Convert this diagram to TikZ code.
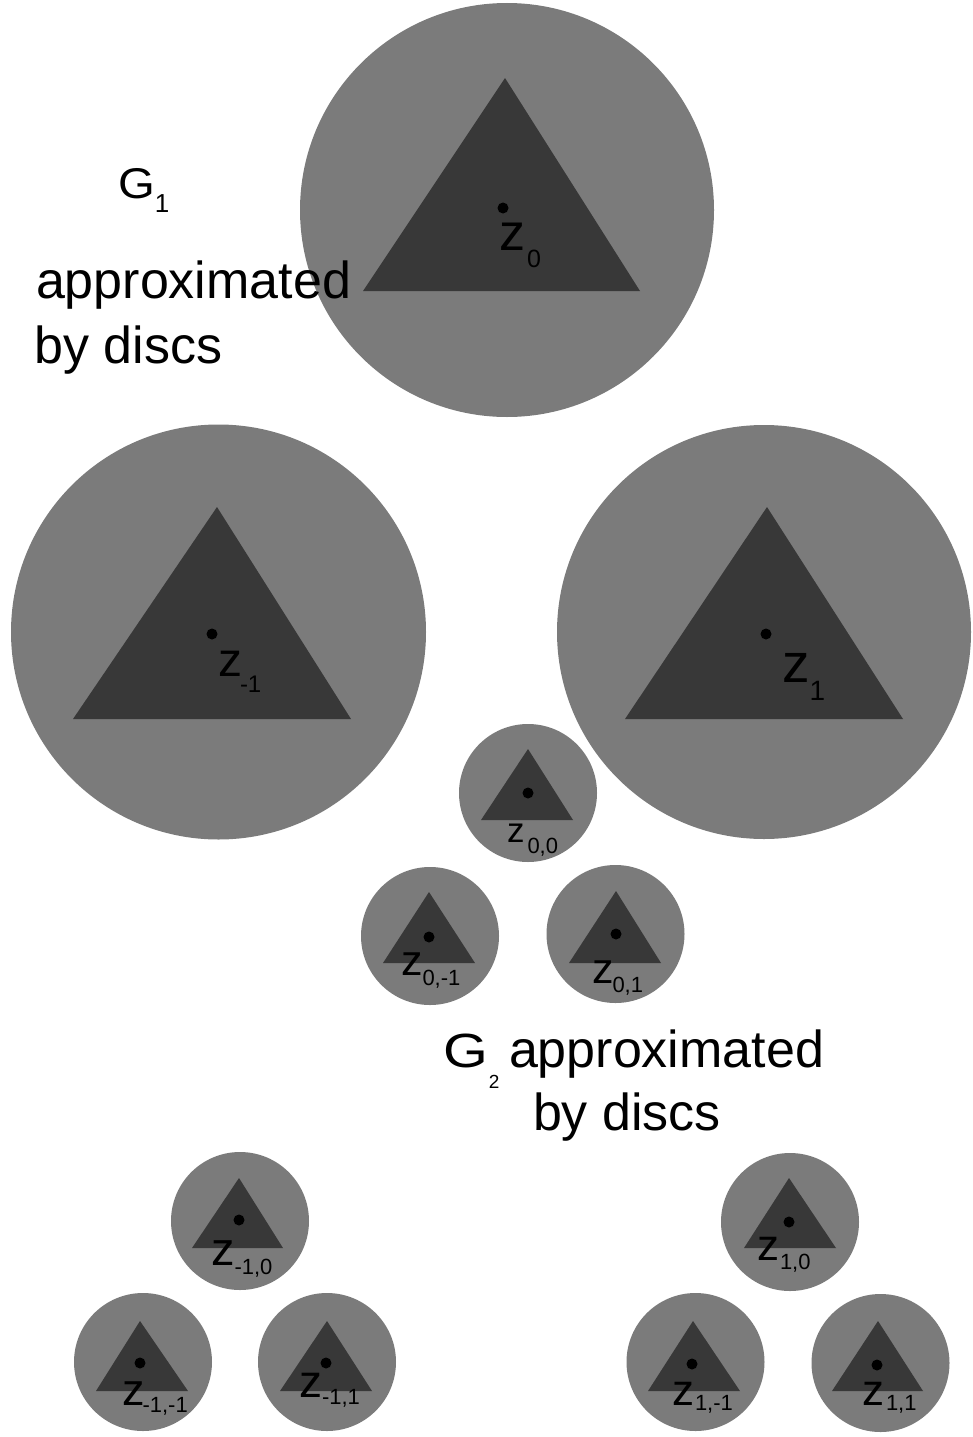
\documentclass[tikz,border=0pt]{standalone}
\usepackage{fontspec}
\setmainfont{Liberation Sans}
\definecolor{discgray}{RGB}{123,123,123}
\definecolor{trigray}{RGB}{56,56,56}
% z label: zsize, kern, drop, subsize, subscript
\newcommand\zlab[5]{{\fontsize{#1pt}{#1pt}\selectfont z}\kern#2pt\raisebox{-#3pt}{\fontsize{#4pt}{#4pt}\selectfont #5}}
\newcommand\fsz[1]{\fontsize{#1pt}{#1pt}\selectfont}
\tikzset{
  disc/.style={fill=discgray},
  tri/.style={fill=trigray},
  centre/.style={fill=black},
  lab/.style={anchor=base west, inner sep=0pt, outer sep=0pt, text=black},
}
\begin{document}
\begin{tikzpicture}[x=1pt,y=-1pt]
\useasboundingbox (0,0) rectangle (973,1437);
% ---------- big discs (G1) ----------
\fill[disc] (507,210) circle[radius=207pt];
\fill[tri] (505,78) -- (363,291) -- (640,291) -- cycle;
\fill[centre] (503,208) circle[radius=5.5pt];
\node[lab] (z0) at (499,250) {\zlab{52}{2}{17}{25}{0}};

\fill[disc] (218.5,632) circle[radius=207.5pt];
\fill[tri] (217,507) -- (73,719) -- (351,719) -- cycle;
\fill[centre] (212,634) circle[radius=5.5pt];
\node[lab] (zm1) at (218,676) {\zlab{48}{-2}{16}{24}{-1}};

\fill[disc] (764,632) circle[radius=207pt];
\fill[tri] (767,507) -- (625,719) -- (903,719) -- cycle;
\fill[centre] (766,634) circle[radius=5.5pt];
\node[lab] (z1) at (782,682) {\zlab{55}{0}{18}{28}{1}};

% ---------- small discs (G2) ----------
\fill[disc] (528,793) circle[radius=69pt];
\fill[tri] (528,749) -- (481,820) -- (573,820) -- cycle;
\fill[centre] (528,793) circle[radius=5.5pt];
\node[lab] (z00) at (507,842) {\zlab{35}{3}{11}{22}{0,0}};

\fill[disc] (430,936) circle[radius=69pt];
\fill[tri] (429,892) -- (383,963) -- (475,963) -- cycle;
\fill[centre] (429,937) circle[radius=5.5pt];
\node[lab] (z0m1) at (401,975) {\zlab{43}{0}{10}{22}{0,-1}};

\fill[disc] (615.5,934) circle[radius=69pt];
\fill[tri] (616,891) -- (569,963) -- (661,963) -- cycle;
\fill[centre] (616,934) circle[radius=5.5pt];
\node[lab] (z01) at (592,983) {\zlab{43}{-1}{9}{22}{0,1}};

\fill[disc] (240,1221) circle[radius=69pt];
\fill[tri] (239,1178) -- (192,1248) -- (283,1248) -- cycle;
\fill[centre] (239,1220) circle[radius=5.5pt];
\node[lab] (zm10) at (211,1265) {\zlab{47}{0}{9}{22}{-1,0}};

\fill[disc] (143,1362) circle[radius=69pt];
\fill[tri] (140,1321) -- (96,1391) -- (188,1391) -- cycle;
\fill[centre] (140,1363) circle[radius=5.5pt];
\node[lab] (zm1m1) at (122,1405) {\zlab{45}{-2}{7}{22}{-1,-1}};

\fill[disc] (327,1362) circle[radius=69pt];
\fill[tri] (327,1321) -- (280,1391) -- (372,1391) -- cycle;
\fill[centre] (326,1363) circle[radius=5.5pt];
\node[lab] (zm11) at (299,1397) {\zlab{46}{0}{7}{22}{-1,1}};

\fill[disc] (790,1222) circle[radius=69pt];
\fill[tri] (789,1178) -- (744,1248) -- (836,1248) -- cycle;
\fill[centre] (789,1222) circle[radius=5.5pt];
\node[lab] (z10) at (757,1260) {\zlab{44}{1}{9}{22}{1,0}};

\fill[disc] (695.5,1362) circle[radius=69pt];
\fill[tri] (693,1321) -- (648,1391) -- (740,1391) -- cycle;
\fill[centre] (692,1364) circle[radius=5.5pt];
\node[lab] (z1m1) at (672,1405) {\zlab{44}{1}{5}{22}{1,-1}};

\fill[disc] (880.5,1363) circle[radius=69pt];
\fill[tri] (878,1321) -- (832,1391) -- (923,1391) -- cycle;
\fill[centre] (877,1365) circle[radius=5.5pt];
\node[lab] (z11) at (862,1405) {\zlab{44}{2}{5}{22}{1,1}};

% ---------- captions ----------
\node[lab] (g1) at (118,198) {\scalebox{1.1}[1]{\fsz{43}G}\kern0pt\raisebox{-14pt}{\fsz{26}1}};
\node[lab, font=\fsz{52}] (cap1a) at (36,298) {approximated};
\node[lab, font=\fsz{52}] (cap1b) at (34.5,363) {by discs};

\node[lab] (g2) at (443,1067) {\scalebox{1.2}[1]{\fsz{48}G}\kern1pt\raisebox{-21pt}{\fsz{19}2}};
\node[lab, font=\fsz{52}] (cap2a) at (509,1067) {approximated};
\node[lab, font=\fsz{52}] (cap2b) at (533,1130) {by discs};
\end{tikzpicture}
\end{document}
